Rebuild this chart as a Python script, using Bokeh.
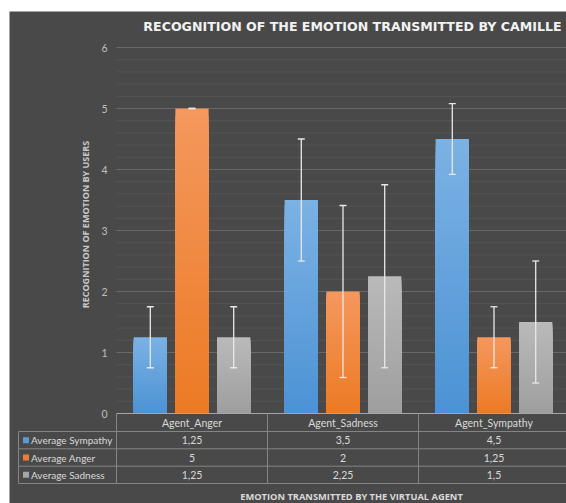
import math
from bokeh.plotting import figure
from bokeh.models import Range1d, ColumnDataSource, Whisker, TeeHead
from bokeh.core.properties import value
from bokeh.embed import file_html
from bokeh.resources import INLINE

# ---------------- data ----------------
categories = ["Agent_Anger", "Agent_Sadness", "Agent_Sympathy"]
series_names = ["Average Sympathy", "Average Anger", "Average Sadness"]
avg_sympathy = [1.25, 3.5, 4.5]
avg_anger = [5, 2, 1.25]
avg_sadness = [1.25, 2.25, 1.5]
err_sympathy = [0.5, 1.0, 0.58]
err_anger = [0.0, 1.41, 0.5]
err_sadness = [0.5, 1.5, 1.0]
y_ticks = [0, 1, 2, 3, 4, 5, 6]
y_minor_step = 0.2
title_text = "RECOGNITION OF THE EMOTION TRANSMITTED BY CAMILLE"
x_label = "EMOTION TRANSMITTED BY THE VIRTUAL AGENT"
y_label = "RECOGNITION OF EMOTION BY USERS"

# ---------------- layout / style ----------------
W, H = 566, 503
OX, OY = 116.0, 413.0        # page pixel of data (0, 0)
PXC, PXU = 151.0, 61.0       # px per category, px per unit
FRAME_L, FRAME_T = 9, 11


def X(px):
    return (px - OX) / PXC


def Y(py):
    return (OY - py) / PXU


BG = "#494949"
TXT = "#d9d9d9"
TICK_TXT = "#bfbfbf"
GRID_MAJOR = "#686868"
GRID_MINOR = "#555555"
TABLE_LINE = "#858585"
AXIS_LINE = "#a6a6a6"
ERR = "#e8e8e8"
TOP_COLORS = [(124, 178, 228), (244, 152, 94), (186, 186, 186)]
BOT_COLORS = [(76, 146, 212), (236, 122, 36), (158, 158, 158)]
KEY_COLORS = ["#5b9bd5", "#ed7d31", "#a5a5a5"]
BAR_W = 33.3 / PXC
BAR_OFF = 41.7 / PXC

p = figure(width=W, height=H, output_backend="svg", toolbar_location=None,
           x_range=Range1d(X(FRAME_L), X(W)), y_range=Range1d(Y(H), Y(FRAME_T)),
           x_axis_type=None, y_axis_type=None,
           min_border_left=FRAME_L, min_border_top=FRAME_T, min_border_right=0, min_border_bottom=0)
p.background_fill_color = BG
p.border_fill_color = "white"
p.outline_line_color = None

x_right = X(620)

# gridlines
minor = []
v = y_minor_step
while v < max(y_ticks) + 1e-9:
    if abs(v - round(v)) > 1e-6:
        minor.append(round(v, 4))
    v += y_minor_step
p.segment(x0=[0] * len(minor), x1=[x_right] * len(minor), y0=minor, y1=minor,
          line_color=GRID_MINOR, line_width=1)
majors = [t for t in y_ticks if t > 0]
p.segment(x0=[0] * len(majors), x1=[x_right] * len(majors), y0=majors, y1=majors,
          line_color=GRID_MAJOR, line_width=1)


def lerp(c0, c1, t):
    return "#%02x%02x%02x" % tuple(int(round(a + (b - a) * t)) for a, b in zip(c0, c1))


# bars with vertical gradient
series_vals = [avg_sympathy, avg_anger, avg_sadness]
series_errs = [err_sympathy, err_anger, err_sadness]
N = 40
for s, vals in enumerate(series_vals):
    left, right, top, bottom, colors = [], [], [], [], []
    for i, val in enumerate(vals):
        xc = i + 0.5 + (s - 1) * BAR_OFF
        for k in range(N - 1, -1, -1):
            left.append(xc - BAR_W / 2)
            right.append(xc + BAR_W / 2)
            bottom.append(0)
            top.append(val * (k + 1) / N)
            colors.append(lerp(BOT_COLORS[s], TOP_COLORS[s], (k + 0.5) / N))
    p.quad(left=left, right=right, top=top, bottom=bottom, fill_color=colors, line_color=None)

# error bars
for s, vals in enumerate(series_vals):
    errs = series_errs[s]
    src = ColumnDataSource(dict(
        x=[i + 0.5 + (s - 1) * BAR_OFF for i in range(len(vals))],
        upper=[v + e for v, e in zip(vals, errs)],
        lower=[v - e for v, e in zip(vals, errs)],
    ))
    w = Whisker(base="x", upper="upper", lower="lower", source=src, dimension="height",
                line_color=ERR, line_width=1.3, level="overlay",
                upper_head=TeeHead(size=7, line_color=ERR, line_width=1.3),
                lower_head=TeeHead(size=7, line_color=ERR, line_width=1.3))
    p.add_layout(w)

# y tick labels
p.text(x=[X(107)] * len(y_ticks), y=y_ticks, text=[str(t) for t in y_ticks],
       text_align="right", text_baseline="middle", text_color=TICK_TXT,
       text_font=value("Lato"), text_font_size=value("10.5px"))

# data table
row_edges_px = [413, 431, 448.3, 465.7, 483]
left_col_px = 18
ncat = len(categories)
# horizontal lines
p.segment(x0=[0], x1=[x_right], y0=[Y(row_edges_px[0])], y1=[Y(row_edges_px[0])],
          line_color=AXIS_LINE, line_width=1.2)
hy = [Y(r) for r in row_edges_px[1:]]
p.segment(x0=[X(left_col_px)] * len(hy), x1=[x_right] * len(hy), y0=hy, y1=hy,
          line_color=TABLE_LINE, line_width=1)
# vertical lines
vx = list(range(ncat + 1))
p.segment(x0=vx, x1=vx, y0=[Y(row_edges_px[0])] * len(vx), y1=[Y(row_edges_px[-1])] * len(vx),
          line_color=TABLE_LINE, line_width=1)
p.segment(x0=[X(left_col_px)], x1=[X(left_col_px)], y0=[Y(row_edges_px[1])], y1=[Y(row_edges_px[-1])],
          line_color=TABLE_LINE, line_width=1)

# header
head_y = Y((row_edges_px[0] + row_edges_px[1]) / 2)
p.text(x=[i + 0.5 for i in range(ncat)], y=[head_y] * ncat, text=categories,
       text_align="center", text_baseline="middle", text_color=TXT,
       text_font=value("Lato"), text_font_size=value("10.5px"))


def fmt(v):
    return ("%g" % v).replace(".", ",")


for s, vals in enumerate(series_vals):
    ry = Y((row_edges_px[s + 1] + row_edges_px[s + 2]) / 2)
    p.scatter(x=[X(25.5)], y=[ry], marker="square", size=6, fill_color=KEY_COLORS[s], line_color=None)
    p.text(x=[X(30.5)], y=[ry], text=[series_names[s]], text_align="left", text_baseline="middle",
           text_color=TXT, text_font=value("Lato"), text_font_size=value("10px"))
    p.text(x=[i + 0.5 for i in range(ncat)], y=[ry] * ncat, text=[fmt(v) for v in vals],
           text_align="center", text_baseline="middle", text_color=TXT,
           text_font=value("Lato"), text_font_size=value("10.5px"))

# title and axis labels
p.text(x=[X(352)], y=[Y(25.5)], text=[title_text], text_align="center", text_baseline="middle",
       text_color="#f2f2f2", text_font=value("DejaVu Sans"), text_font_style="bold",
       text_font_size=value("12.6px"))
p.text(x=[X(351)], y=[Y(496)], text=[x_label], text_align="center", text_baseline="middle",
       text_color=TXT, text_font=value("Open Sans"), text_font_style="bold",
       text_font_size=value("9.3px"))
p.text(x=[X(85)], y=[Y(224)], text=[y_label], angle=math.pi / 2, text_align="center",
       text_baseline="middle", text_color="#c8c8c8", text_font=value("Open Sans"),
       text_font_style="bold", text_font_size=value("9px"))

open("out.html", "w").write(file_html(p, INLINE))
